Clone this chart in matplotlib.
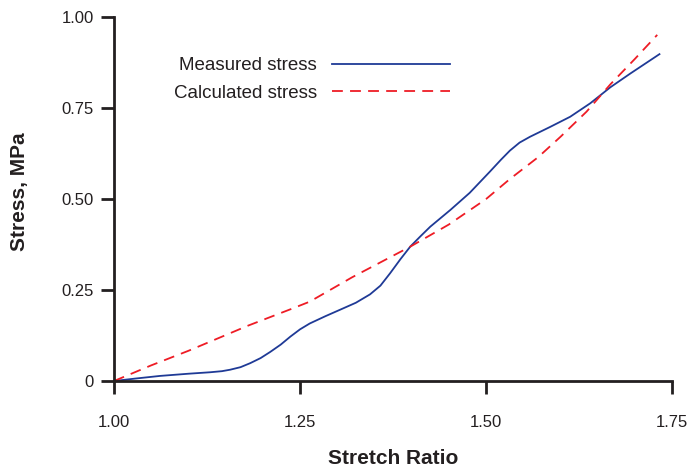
import numpy as np
import matplotlib
matplotlib.use('Agg')
import matplotlib.pyplot as plt

plt.rcParams['font.family'] = ['Liberation Sans', 'DejaVu Sans']

# measured stress
x_meas = [1.00, 1.03, 1.062, 1.10, 1.129, 1.145, 1.156, 1.17, 1.183, 1.197,
          1.210, 1.224, 1.237, 1.25, 1.263, 1.284, 1.304, 1.325, 1.344, 1.358,
          1.371, 1.385, 1.398, 1.412, 1.425, 1.452, 1.478, 1.505, 1.520, 1.532,
          1.545, 1.559, 1.586, 1.613, 1.640, 1.667, 1.694, 1.733]
y_meas = [0.0, 0.007, 0.014, 0.020, 0.024, 0.027, 0.031, 0.038, 0.049, 0.063,
          0.080, 0.100, 0.122, 0.142, 0.158, 0.178, 0.196, 0.215, 0.238, 0.262,
          0.296, 0.335, 0.369, 0.398, 0.424, 0.470, 0.517, 0.575, 0.608, 0.633,
          0.655, 0.671, 0.698, 0.726, 0.763, 0.807, 0.845, 0.898]

# calculated stress
x_calc = [1.00, 1.05, 1.10, 1.129, 1.18, 1.237, 1.263, 1.32, 1.398, 1.45,
          1.50, 1.532, 1.57, 1.60, 1.635, 1.667, 1.70, 1.73]
y_calc = [0.0, 0.043, 0.083, 0.108, 0.152, 0.197, 0.218, 0.285, 0.369, 0.430,
          0.500, 0.555, 0.615, 0.671, 0.740, 0.815, 0.885, 0.951]

xticks = [1.00, 1.25, 1.50, 1.75]
yticks = [0, 0.25, 0.50, 0.75, 1.00]
ytick_labels = ['0', '0.25', '0.50', '0.75', '1.00']

fig = plt.figure(figsize=(6.89, 4.73), dpi=100)
ax = fig.add_axes([0.1655, 0.1945, 0.81, 0.7695])

ax.plot(x_meas, y_meas, color='#1f3a96', lw=1.3, label='Measured stress')
ax.plot(x_calc, y_calc, color='#ee1c25', lw=1.3, dashes=(6, 4), label='Calculated stress')

ax.set_xlim(1.0, 1.75)
ax.set_ylim(0, 1.0)
ax.set_xticks(xticks)
ax.set_xticklabels(['%.2f' % t for t in xticks])
ax.set_yticks(yticks)
ax.set_yticklabels(ytick_labels)

for s in ['top', 'right']:
    ax.spines[s].set_visible(False)
for s in ['left', 'bottom']:
    ax.spines[s].set_linewidth(2)
    ax.spines[s].set_color('#231f20')
ax.tick_params(axis='both', direction='out', length=9.5, width=2, color='#231f20',
               labelsize=12, labelcolor='#231f20')
ax.tick_params(axis='x', pad=15)
ax.tick_params(axis='y', pad=5)

ax.set_xlabel('Stretch Ratio', fontsize=15, fontweight='bold', color='#231f20', labelpad=14)
ax.set_ylabel('Stress, MPa', fontsize=15, fontweight='bold', color='#231f20')
ax.yaxis.set_label_coords(-0.153, 0.52)

ax.legend(loc='upper left', bbox_to_anchor=(0.09, 0.915), frameon=False, markerfirst=False,
          fontsize=13.5, handlelength=6.3, handletextpad=0.8, labelspacing=0.55, borderpad=0,
          labelcolor='#231f20')

fig.savefig('out.png', dpi=100)
